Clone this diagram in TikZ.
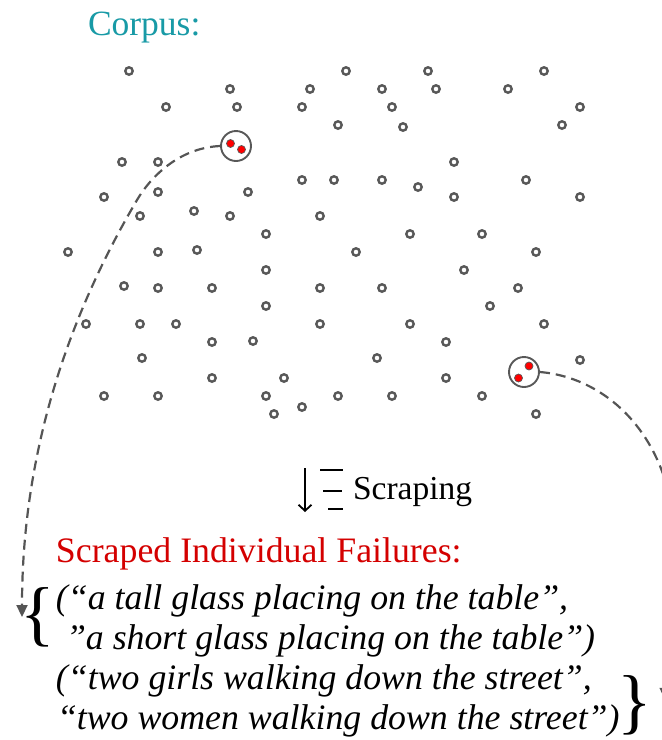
\documentclass[tikz,border=0pt]{standalone}
\usepackage{fontspec}
\setmainfont{Liberation Serif}
\usetikzlibrary{arrows.meta}
\definecolor{dotgray}{RGB}{88,88,88}
\definecolor{dashgray}{RGB}{85,85,85}
\definecolor{corpusteal}{RGB}{24,154,166}
\definecolor{failred}{RGB}{212,0,0}
\tikzset{
  dot/.style={circle, draw=dotgray, line width=2.4pt, minimum size=7.4pt, inner sep=0pt},
  bigcirc/.style={circle, draw=dotgray, line width=1.9pt, minimum size=30pt, inner sep=0pt},
  reddot/.style={circle, fill=red, draw=dotgray, line width=0.7pt, minimum size=8pt, inner sep=0pt},
  link/.style={draw=dashgray, line width=2.2pt, dash pattern=on 10pt off 6pt, -{Triangle[width=11pt,length=12pt]}},
  txt/.style={anchor=base west, inner sep=0pt, outer sep=0pt},
  body/.style={txt, font=\fontsize{35.8}{40}\selectfont\itshape},
  brace/.style={inner sep=0pt, font=\fontsize{72}{72}\selectfont}
}
\begin{document}
\begin{tikzpicture}[x=1pt, y=-1pt]
\useasboundingbox (0,0) rectangle (662,740);
\clip (0,0) rectangle (662,740);
% corpus dots
\foreach \x/\y [count=\i] in {
 129/71,346/71,428/71,544/71,
 230/89,310/89,382/89,436/89,508/89,
 166/107,237/107,302/107,392/107,580/107,
 338/125,403/127,562/125,
 122/162,158/162,454/162,
 302/180,334/180,382/180,418/187,526/180,
 104/197,158/192,248/192,454/197,580/197,
 140/216,194/211,230/216,320/216,
 266/234,410/234,482/234,
 68/252,158/252,197/250,356/252,536/252,
 266/270,464/270,
 124/286,158/288,212/288,320/288,382/288,518/288,
 266/306,490/306,
 86/324,140/324,176/324,320/324,410/324,544/324,
 212/342,253/341,446/342,
 142/358,377/358,580/360,
 212/378,284/378,446/378,
 104/396,158/396,266/396,338/396,392/396,482/396,
 302/407,274/414,536/414}
  \node[dot] (d\i) at (\x,\y) {};
% highlighted pairs
\node[bigcirc] (c1) at (236,146) {};
\node[reddot] (r1) at (230.5,143.5) {};
\node[reddot] (r2) at (241.5,149.5) {};
\node[bigcirc] (c2) at (524,372) {};
\node[reddot] (r3) at (529,366) {};
\node[reddot] (r4) at (518.5,378) {};
% texts
\node[txt, text=corpusteal, font=\fontsize{35.5}{40}\selectfont] (corpus) at (88,35) {Corpus:};
\node[txt, font=\fontsize{33.5}{38}\selectfont] (scraping) at (353,499) {Scraping};
\node[txt, text=failred, font=\fontsize{35.8}{40}\selectfont] (title) at (56,562) {Scraped Individual Failures:};
\node[body] (l1) at (56,609) {(“a tall glass placing on the table”,};
\node[body] (l2) at (66,649) {”a short glass placing on the table”)};
\node[body] (l3) at (56,689) {(“two girls walking down the street”,};
\node[body] (l4) at (57,729) {“two women walking down the street”)};
\node[brace] (lb) at (38,617) {\{};
\node[brace] (rb) at (635,705) {\}};
% scraping icon
\draw[line width=1.8pt, -{Straight Barb[length=6pt,width=13pt]}] (305,468) -- (305,512);
\draw[line width=2.6pt] (320,470) -- (343,470);
\draw[line width=2.6pt] (323,491) -- (342,491);
\draw[line width=2.6pt] (328,509) -- (343,509);
% connectors
\coordinate (lend) at (22,617);
\coordinate (rend) at (665,700);
\draw[link] (c1.west) .. controls (178,148) and (150,178) .. (137,200)
  .. controls (90,280) and (22,420) .. (lend);
\draw[link] (c2.east) .. controls (610,378) and (672,440) .. (675,540)
  .. controls (677,620) and (666,650) .. (rend);
\end{tikzpicture}
\end{document}
